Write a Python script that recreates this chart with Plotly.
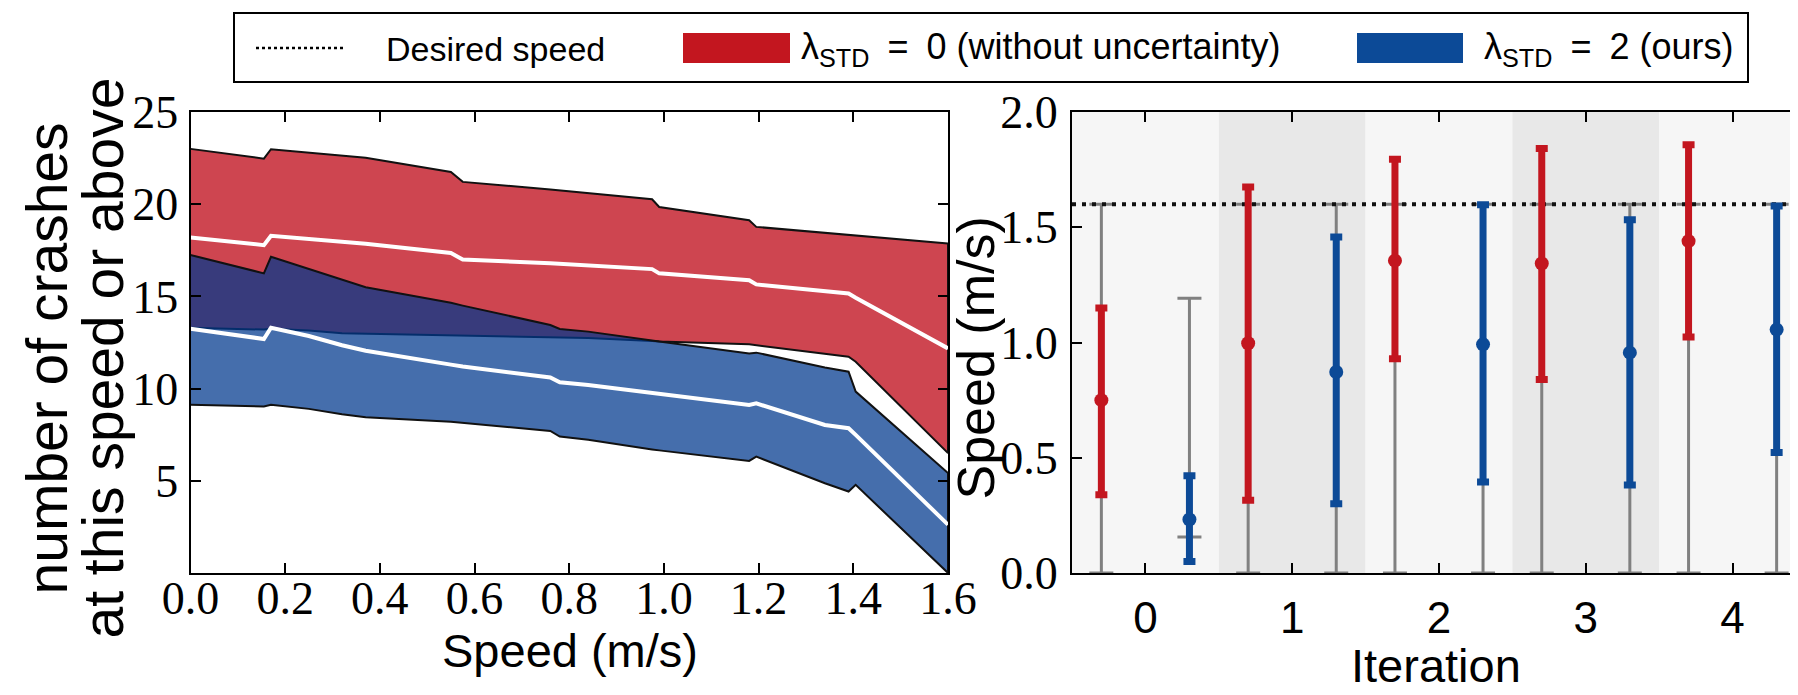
import plotly.graph_objects as go

# ---------------- data: left panel (crashes vs speed) ----------------
speeds = [0.0, 0.155, 0.17, 0.25, 0.32, 0.37, 0.55, 0.575, 0.76, 0.78, 0.84,
          0.975, 0.99, 1.18, 1.195, 1.34, 1.39, 1.405, 1.6]

red_upper = [23.0, 22.47, 22.98, 22.8, 22.62, 22.52, 21.75, 21.21, 20.8, 20.75, 20.58,
             20.27, 19.85, 19.13, 18.77, 18.46, 18.35, 18.3, 17.87]
red_mean = [18.2, 17.78, 18.29, 18.12, 17.96, 17.85, 17.35, 17.0, 16.8, 16.77, 16.7,
            16.48, 16.25, 15.88, 15.65, 15.25, 15.16, 14.93, 12.18]
red_lower = [13.3, 13.2, 13.25, 13.15, 13.0, 12.98, 12.9, 12.88, 12.8, 12.78, 12.75,
             12.58, 12.55, 12.4, 12.35, 11.88, 11.73, 11.46, 6.5]

blue_upper = [17.24, 16.25, 17.15, 16.5, 15.94, 15.5, 14.65, 14.5, 13.45, 13.23, 13.09,
              12.6, 12.55, 11.91, 11.95, 11.14, 10.92, 9.84, 5.42]
blue_mean = [13.25, 12.69, 13.3, 12.85, 12.35, 12.05, 11.3, 11.2, 10.6, 10.34, 10.2,
             9.75, 9.7, 9.11, 9.2, 8.03, 7.85, 7.49, 2.62]
blue_lower = [9.12, 9.03, 9.12, 8.9, 8.61, 8.45, 8.2, 8.15, 7.7, 7.4, 7.22,
              6.7, 6.65, 6.08, 6.31, 4.87, 4.42, 4.78, 0.0]

# ---------------- data: right panel (speed per iteration) ----------------
iterations = [0, 1, 2, 3, 4]
red_speed_mean = [0.75, 0.997, 1.355, 1.343, 1.44]
red_speed_hi = [1.15, 1.675, 1.795, 1.842, 1.858]
red_speed_lo = [0.34, 0.316, 0.93, 0.84, 1.024]
red_range_min = [0.0, 0.0, 0.0, 0.0, 0.0]
red_range_max = [1.6, 1.6, 1.6, 1.6, 1.6]

blue_speed_mean = [0.232, 0.872, 0.992, 0.956, 1.056]
blue_speed_hi = [0.422, 1.458, 1.598, 1.533, 1.592]
blue_speed_lo = [0.05, 0.3, 0.395, 0.382, 0.523]
blue_range_min = [0.156, 0.0, 0.0, 0.0, 0.0]
blue_range_max = [1.192, 1.6, 1.6, 1.6, 1.6]

desired_speed = 1.6

left_xticks = [0.0, 0.2, 0.4, 0.6, 0.8, 1.0, 1.2, 1.4, 1.6]
left_yticks = [5, 10, 15, 20, 25]
right_yticks = [0.0, 0.5, 1.0, 1.5, 2.0]

# ---------------- styling ----------------
W, H = 1798, 695
def PX(x):
    return x / W
def PY(y):
    return 1 - y / H

TOP, BOTTOM = 104, 565
MIDY = (TOP + BOTTOM) / 2
YTITLE_Y = MIDY + 16

RED = "#c3161f"
BLUE = "#0c4a97"
GRAY = "#808080"
RED_FILL = "rgba(192,17,31,0.78)"
BLUE_FILL = "rgba(0,56,141,0.73)"
SERIF = "Liberation Serif, DejaVu Serif, serif"
SANS = "Liberation Sans, Arial, sans-serif"
OFFSET = 0.3
ESP = "\u2002"

fig = go.Figure()

def band(upper, lower, fill):
    return go.Scatter(
        x=speeds + speeds[::-1], y=upper + lower[::-1],
        fill="toself", fillcolor=fill, mode="lines",
        line=dict(color="#111111", width=2),
        xaxis="x", yaxis="y", showlegend=False, hoverinfo="skip")

fig.add_trace(band(red_upper, red_lower, RED_FILL))
fig.add_trace(band(blue_upper, blue_lower, BLUE_FILL))
fig.add_trace(go.Scatter(x=speeds, y=red_mean, mode="lines",
                         line=dict(color="white", width=4), xaxis="x", yaxis="y", showlegend=False))
fig.add_trace(go.Scatter(x=speeds, y=blue_mean, mode="lines",
                         line=dict(color="white", width=4), xaxis="x", yaxis="y", showlegend=False))

# right panel
red_x = [i - OFFSET for i in iterations]
blue_x = [i + OFFSET for i in iterations]

def range_bars(xs, lo, hi):
    mid = [(a + b) / 2 for a, b in zip(lo, hi)]
    return go.Scatter(
        x=xs, y=mid, mode="markers", marker=dict(size=1, opacity=0),
        error_y=dict(type="data", symmetric=False,
                     array=[h - m for h, m in zip(hi, mid)],
                     arrayminus=[m - l for m, l in zip(mid, lo)],
                     color=GRAY, thickness=3, width=12),
        xaxis="x2", yaxis="y2", showlegend=False, hoverinfo="skip")

fig.add_trace(range_bars(red_x, red_range_min, red_range_max))
fig.add_trace(range_bars(blue_x, blue_range_min, blue_range_max))

fig.add_trace(go.Scatter(
    x=[iterations[0] - 0.5, iterations[-1] + 0.5], y=[desired_speed, desired_speed],
    mode="lines", line=dict(color="#111111", width=4, dash="4px,6px"),
    xaxis="x2", yaxis="y2", showlegend=False))

def speed_bars(xs, mean, lo, hi, color):
    return go.Scatter(
        x=xs, y=mean, mode="markers", marker=dict(size=14, color=color),
        error_y=dict(type="data", symmetric=False,
                     array=[h - m for h, m in zip(hi, mean)],
                     arrayminus=[m - l for m, l in zip(mean, lo)],
                     color=color, thickness=7, width=6),
        xaxis="x2", yaxis="y2", showlegend=False)

fig.add_trace(speed_bars(red_x, red_speed_mean, red_speed_lo, red_speed_hi, RED))
fig.add_trace(speed_bars(blue_x, blue_speed_mean, blue_speed_lo, blue_speed_hi, BLUE))

# background bands in right panel
shapes = []
for k, it in enumerate(iterations):
    shapes.append(dict(type="rect", xref="x2", yref="y2 domain",
                       x0=it - 0.5, x1=it + 0.5, y0=0, y1=1,
                       fillcolor="#f6f6f6" if k % 2 == 0 else "#e8e8e8",
                       line=dict(width=0), layer="below"))

# legend (custom drawn)
LEG_Y = 40
shapes.append(dict(type="rect", xref="paper", yref="paper",
                   x0=PX(226), x1=PX(1740), y0=PY(74), y1=PY(5),
                   line=dict(color="black", width=2), fillcolor="white"))
shapes.append(dict(type="line", xref="paper", yref="paper",
                   x0=PX(248), x1=PX(335), y0=PY(LEG_Y), y1=PY(LEG_Y),
                   line=dict(color="black", width=2.5, dash="dot")))
shapes.append(dict(type="rect", xref="paper", yref="paper",
                   x0=PX(675), x1=PX(782), y0=PY(LEG_Y + 15), y1=PY(LEG_Y - 15),
                   fillcolor=RED, line=dict(width=0)))
shapes.append(dict(type="rect", xref="paper", yref="paper",
                   x0=PX(1349), x1=PX(1455), y0=PY(LEG_Y + 15), y1=PY(LEG_Y - 15),
                   fillcolor=BLUE, line=dict(width=0)))

annotations = [
    dict(text="Desired speed", x=PX(376), y=PY(LEG_Y + 1), xref="paper", yref="paper",
         xanchor="left", yanchor="middle", showarrow=False,
         font=dict(family=SANS, size=34, color="black")),
    dict(text=f"λ<sub>STD</sub>{ESP}={ESP}0 (without uncertainty)", x=PX(791), y=PY(LEG_Y + 1),
         xref="paper", yref="paper", xanchor="left", yanchor="middle", showarrow=False,
         font=dict(family=SANS, size=36, color="black")),
    dict(text=f"λ<sub>STD</sub>{ESP}={ESP}2 (ours)", x=PX(1474), y=PY(LEG_Y + 1),
         xref="paper", yref="paper", xanchor="left", yanchor="middle", showarrow=False,
         font=dict(family=SANS, size=36, color="black")),
    # axis titles
    dict(text="Speed (m/s)", x=PX(562), y=PY(642), xref="paper", yref="paper",
         xanchor="center", yanchor="middle", showarrow=False,
         font=dict(family=SANS, size=47, color="black")),
    dict(text="Iteration", x=PX(1428), y=PY(657), xref="paper", yref="paper",
         xanchor="center", yanchor="middle", showarrow=False,
         font=dict(family=SANS, size=47, color="black")),
    dict(text="number of crashes", x=PX(38), y=PY(YTITLE_Y), xref="paper", yref="paper",
         xanchor="center", yanchor="middle", textangle=-90, showarrow=False,
         font=dict(family=SANS, size=57, color="black")),
    dict(text="at this speed or above", x=PX(94), y=PY(YTITLE_Y), xref="paper", yref="paper",
         xanchor="center", yanchor="middle", textangle=-90, showarrow=False,
         font=dict(family=SANS, size=57, color="black")),
    dict(text="Speed (m/s)", x=PX(967), y=PY(YTITLE_Y), xref="paper", yref="paper",
         xanchor="center", yanchor="middle", textangle=-90, showarrow=False,
         font=dict(family=SANS, size=52, color="black")),
]

axis_common = dict(showline=True, linecolor="black", linewidth=2, mirror="ticks",
                   ticks="inside", ticklen=10, tickwidth=1.5, tickcolor="black",
                   showgrid=False, zeroline=False, automargin=False)

fig.update_layout(
    width=W, height=H,
    margin=dict(l=0, r=0, t=0, b=0, autoexpand=False),
    paper_bgcolor="white", plot_bgcolor="white",
    showlegend=False,
    xaxis=dict(domain=[PX(182.5), PX(940)], range=[0, 1.6], anchor="y",
               tickvals=left_xticks, ticktext=[f"{v:.1f}" for v in left_xticks],
               tickfont=dict(family=SERIF, size=46, color="black"),
               ticklabelstandoff=-16, **axis_common),
    yaxis=dict(domain=[PY(BOTTOM), PY(TOP)], range=[0, 25], anchor="x",
               tickvals=left_yticks, ticktext=[str(v) for v in left_yticks],
               tickfont=dict(family=SERIF, size=46, color="black"),
               ticklabelstandoff=1, **axis_common),
    xaxis2=dict(domain=[PX(1064), 1.0], range=[-0.5, 4.5], anchor="y2",
                tickvals=iterations, ticktext=[str(v) for v in iterations],
                tickfont=dict(family=SANS, size=44, color="black"),
                ticklabelstandoff=5, **axis_common),
    yaxis2=dict(domain=[PY(BOTTOM), PY(TOP)], range=[0, 2.0], anchor="x2",
                tickvals=right_yticks, ticktext=[f"{v:.1f}" for v in right_yticks],
                tickfont=dict(family=SERIF, size=46, color="black"),
                ticklabelstandoff=3, **axis_common),
    shapes=shapes,
    annotations=annotations,
)

fig.write_html("out.html")
